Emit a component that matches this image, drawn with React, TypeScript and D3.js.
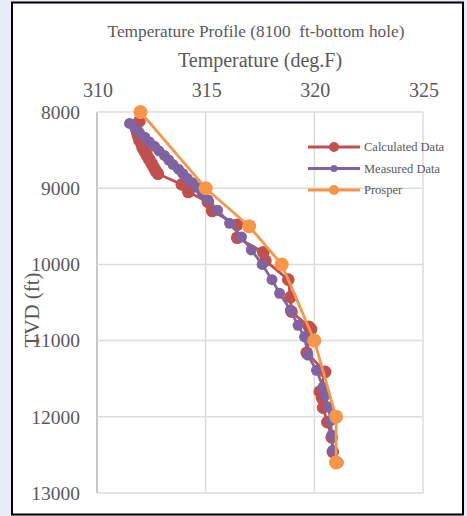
import React from "react";
import * as d3 from "d3";

const xTicks = [310, 315, 320, 325];
const yTicks = [8000, 9000, 10000, 11000, 12000, 13000];

const calcDepth = [8120, 8170, 8220, 8270, 8320, 8370, 8420, 8470, 8520, 8570, 8620, 8670, 8720, 8770, 8810, 8950, 9050, 9180, 9300, 9480, 9650, 9840, 9950, 10200, 10430, 10620, 10820, 10850, 11160, 11410, 11670, 11750, 11880, 12070, 12270, 12460, 12600];
const calcTemp = [311.95, 311.8, 311.8, 311.85, 311.9, 311.95, 312.05, 312.1, 312.2, 312.3, 312.4, 312.5, 312.6, 312.7, 312.8, 313.9, 314.2, 315.1, 315.3, 316.45, 316.45, 317.65, 317.75, 318.8, 318.9, 318.95, 319.75, 319.85, 319.65, 320.5, 320.25, 320.35, 320.4, 320.6, 320.8, 320.85, 321.0];

const measDepth = [8150, 8210, 8270, 8330, 8390, 8450, 8510, 8570, 8630, 8690, 8750, 8810, 8870, 8930, 8990, 9070, 9150, 9290, 9460, 9640, 9810, 10000, 10200, 10380, 10600, 10800, 10950, 11190, 11390, 11610, 11720, 11870, 12050, 12240, 12440, 12600];
const measTemp = [311.5, 311.75, 311.95, 312.2, 312.4, 312.65, 312.85, 313.1, 313.3, 313.5, 313.75, 313.95, 314.15, 314.4, 314.6, 314.85, 315.1, 315.55, 316.1, 316.65, 317.1, 317.6, 318.05, 318.4, 318.9, 319.25, 319.55, 319.7, 320.1, 320.4, 320.5, 320.65, 320.75, 320.8, 320.85, 321.1];

const prosperDepth = [8000, 9000, 9500, 10000, 11000, 12000, 12600];
const prosperTemp = [312, 315, 317, 318.5, 320, 321, 321];

const seriesNames = ["Calculated Data", "Measured Data", "Prosper"];
const seriesColors = ["#c0504d", "#8064a2", "#f79646"];

export default function App() {
  const x = d3.scaleLinear().domain([310, 325]).range([97, 423]);
  const y = d3.scaleLinear().domain([8000, 13000]).range([112, 493]);
  const line = d3
    .line<[number, number]>()
    .x((d) => x(d[0]))
    .y((d) => y(d[1]));

  const series = [
    { pts: calcTemp.map((t, i) => [t, calcDepth[i]] as [number, number]), r: 6.3, lr: 5 },
    { pts: measTemp.map((t, i) => [t, measDepth[i]] as [number, number]), r: 5.5, lr: 3.5 },
    { pts: prosperTemp.map((t, i) => [t, prosperDepth[i]] as [number, number]), r: 7, lr: 5 },
  ];

  const textColor = "#595959";
  const font = "Liberation Serif, Times New Roman, serif";

  return (
    <div style={{ position: "fixed", left: 0, top: 0, width: 467, height: 516, background: "#e8ecf6" }}>
      <svg width={467} height={516} style={{ display: "block" }} fontFamily={font}>
        <rect x={12} y={2.5} width={451} height={512} fill="#ffffff" stroke="#000" strokeWidth={2} />
        {xTicks.map((t) => (
          <line key={"gx" + t} x1={x(t)} x2={x(t)} y1={y(8000)} y2={y(13000)} stroke={t === 310 ? "#c8c8c8" : "#dcdcdc"} strokeWidth={t === 310 ? 2 : 1.5} />
        ))}
        {yTicks.map((t) => (
          <line key={"gy" + t} x1={x(310)} x2={x(325)} y1={y(t)} y2={y(t)} stroke="#dcdcdc" strokeWidth={1.5} />
        ))}
        {xTicks.map((t) => (
          <text key={"tx" + t} x={x(t) + 1} y={97} textAnchor="middle" fontSize={20} fill={textColor} fontFamily={font}>
            {t}
          </text>
        ))}
        {yTicks.map((t) => (
          <text key={"ty" + t} x={80} y={y(t)} dy="0.35em" textAnchor="end" fontSize={19.5} fill={textColor} fontFamily={font}>
            {t}
          </text>
        ))}
        <text x={256} y={37} textAnchor="middle" fontSize={17.3} fill={textColor} fontFamily={font}>
          Temperature Profile (8100{"\u00a0"} ft-bottom hole)
        </text>
        <text x={260} y={67} textAnchor="middle" fontSize={20} fill={textColor} fontFamily={font}>
          Temperature (deg.F)
        </text>
        <text transform="translate(39,310) rotate(-90)" textAnchor="middle" fontSize={21} fill={textColor} fontFamily={font}>
          TVD (ft)
        </text>
        {series.map((s, i) => (
          <g key={"s" + i}>
            <path d={line(s.pts) || ""} fill="none" stroke={seriesColors[i]} strokeWidth={2.75} strokeLinejoin="round" />
            {s.pts.map((p, j) => (
              <circle key={j} cx={x(p[0])} cy={y(p[1])} r={s.r} fill={seriesColors[i]} />
            ))}
          </g>
        ))}
        {seriesNames.map((n, i) => {
          const ly = 147 + i * 21.5;
          return (
            <g key={"l" + i}>
              <line x1={308} x2={360} y1={ly} y2={ly} stroke={seriesColors[i]} strokeWidth={3} />
              <circle cx={334} cy={ly} r={series[i].lr} fill={seriesColors[i]} />
              <text x={364} y={ly} dy="0.35em" fontSize={12.5} fill={textColor} fontFamily={font}>
                {n}
              </text>
            </g>
          );
        })}
      </svg>
    </div>
  );
}
